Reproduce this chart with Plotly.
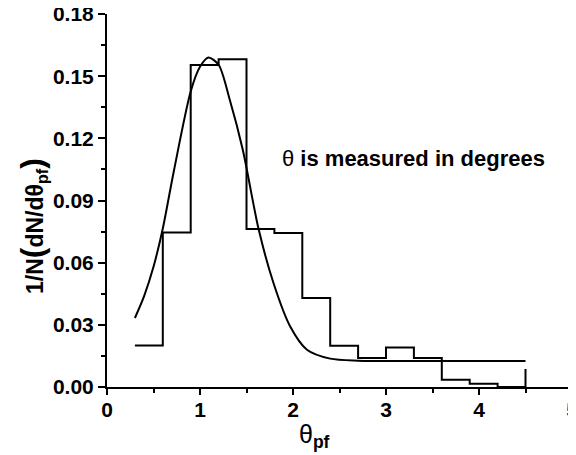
import plotly.graph_objects as go

# Histogram (bin left edges, bin heights)
bin_edges = [0.3, 0.6, 0.9, 1.2, 1.5, 1.8, 2.1, 2.4, 2.7, 3.0, 3.3, 3.6, 3.9, 4.2, 4.5, 4.5]
bin_heights = [0.020, 0.0746, 0.1554, 0.1582, 0.0762, 0.0743, 0.0429, 0.0199,
               0.014, 0.0191, 0.014, 0.0035, 0.0016, 0.0, 0.0, 0.0087]

# Fitted curve
curve_x = [0.3, 0.4, 0.5, 0.6, 0.72, 0.9, 1.0, 1.09, 1.2, 1.32, 1.46, 1.63,
           1.79, 1.97, 2.15, 2.4, 2.7, 3.2, 4.5]
curve_y = [0.0333, 0.044, 0.058, 0.0765, 0.1045, 0.1426, 0.1545, 0.159, 0.1555,
           0.1386, 0.1145, 0.0762, 0.0502, 0.0292, 0.018, 0.0137, 0.0127, 0.0125, 0.0125]

FONT = "Liberation Sans, Arial, sans-serif"
TICKFONT = dict(family=FONT, size=21, color="black")

fig = go.Figure()
fig.add_trace(go.Scatter(x=bin_edges, y=bin_heights, mode="lines",
                         line=dict(color="black", width=2, shape="hv"),
                         showlegend=False, hoverinfo="skip"))
fig.add_trace(go.Scatter(x=curve_x, y=curve_y, mode="lines",
                         line=dict(color="black", width=2, shape="spline", smoothing=0.8),
                         showlegend=False, hoverinfo="skip"))

# page body adds an 8px offset; figure sized so the plot area lands where the reference has it
fig.update_layout(
    width=568, height=447,
    margin=dict(l=99, r=4, t=6, b=68),
    paper_bgcolor="white", plot_bgcolor="white",
    font=dict(family=FONT, color="black"),
    xaxis=dict(range=[0, 5], tickmode="linear", tick0=0, dtick=1, ticks="outside",
               ticklen=6, tickwidth=2, automargin=False, ticklabeloverflow="allow",
               ticklabelstandoff=-3,
               tickprefix="<b>", ticksuffix="</b>",
               showline=True, linecolor="black", linewidth=2, showgrid=False, zeroline=False,
               tickfont=TICKFONT, tickcolor="black",
               minor=dict(ticks="outside", ticklen=4, tickwidth=2, dtick=0.5, tickcolor="black",
                          showgrid=False)),
    yaxis=dict(range=[0, 0.18], tickmode="linear", tick0=0, dtick=0.03, tickformat=".2f",
               ticks="outside", ticklen=7, tickwidth=2, showline=True, linecolor="black",
               linewidth=2, showgrid=False, zeroline=False, tickcolor="black", automargin=False,
               ticklabeloverflow="allow", tickprefix="<b>", ticksuffix="</b>",
               tickfont=TICKFONT,
               minor=dict(ticks="outside", ticklen=4, tickwidth=2, dtick=0.015, tickcolor="black",
                          showgrid=False)),
)

fig.add_annotation(
    text="θ<b> is measured in degrees</b>",
    xref="paper", yref="paper", x=(280 - 107) / 465, y=(387 - 158) / 373,
    xanchor="left", yanchor="middle", showarrow=False,
    font=dict(family=FONT, size=22, color="black"))

fig.add_annotation(
    text="θ<sub><b>pf</b></sub>",
    xref="paper", yref="paper", x=(314 - 107) / 465, y=-(436 - 387) / 373,
    xanchor="center", yanchor="middle", showarrow=False,
    font=dict(family=FONT, size=25, color="black"))

fig.add_annotation(
    text="<b>1/N</b><b><span style='font-size:32px'>(</span>dN/dθ<sub>pf</sub><span style='font-size:32px'>)</span></b>",
    xref="paper", yref="paper", x=-(107 - 33) / 465, y=(387 - 226) / 373,
    xanchor="center", yanchor="middle", showarrow=False, textangle=-90,
    font=dict(family=FONT, size=23, color="black"))

fig.write_html("out.html")
